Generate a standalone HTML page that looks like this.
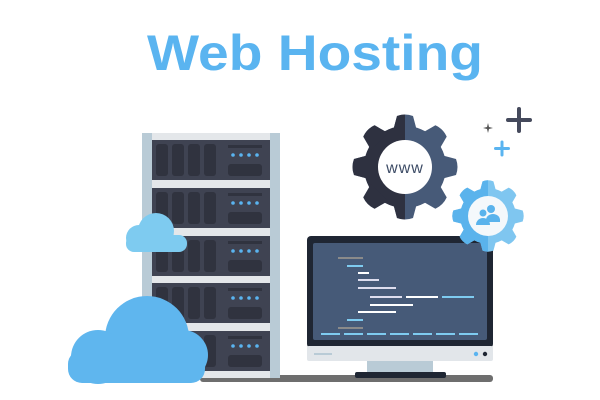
<!DOCTYPE html>
<html><head><style>html,body{margin:0;padding:0;background:#fff}svg{display:block}</style></head><body>
<svg width="600" height="400" viewBox="0 0 600 400" xmlns="http://www.w3.org/2000/svg">
<text x="315" y="70" text-anchor="middle" font-family="Liberation Sans, sans-serif" font-weight="bold" font-size="50" fill="#5ab4f0" textLength="336" lengthAdjust="spacingAndGlyphs">Web Hosting</text>
<!-- floor -->
<rect x="200" y="375" width="293" height="7" rx="3" fill="#6e6e6e"/>
<!-- rack -->
<rect x="142" y="133" width="138" height="245" fill="#e4e7ea"/>
<rect x="142" y="133" width="10" height="245" fill="#b9cbd6"/>
<rect x="270" y="133" width="10" height="245" fill="#b9cbd6"/>
<g id="u">
<rect x="152" y="140" width="118" height="40" fill="#3f4352"/>
<rect x="156" y="144" width="12" height="32" rx="3" fill="#30333f"/>
<rect x="172" y="144" width="12" height="32" rx="3" fill="#30333f"/>
<rect x="188" y="144" width="12" height="32" rx="3" fill="#30333f"/>
<rect x="204" y="144" width="12" height="32" rx="3" fill="#30333f"/>
<rect x="228" y="145" width="34" height="3" fill="#30333f"/>
<circle cx="233" cy="155" r="1.8" fill="#5ab4f0"/><circle cx="241" cy="155" r="1.8" fill="#5ab4f0"/><circle cx="249" cy="155" r="1.8" fill="#5ab4f0"/><circle cx="257" cy="155" r="1.8" fill="#5ab4f0"/>
<rect x="228" y="164" width="34" height="12" rx="3" fill="#30333f"/>
</g>
<use href="#u" y="48"/><use href="#u" y="96"/><use href="#u" y="143"/><use href="#u" y="191"/>
<!-- clouds -->
<g fill="#7ecbf0"><circle cx="156" cy="231" r="18"/><circle cx="139" cy="238" r="13"/><rect x="126" y="235" width="61" height="17" rx="8"/></g>
<g fill="#5fb6ee"><circle cx="147" cy="338" r="42"/><circle cx="98" cy="357" r="27"/><circle cx="183" cy="355" r="25"/><rect x="68" y="350" width="137" height="33" rx="14"/></g>
<!-- monitor -->
<rect x="307" y="236" width="186" height="112" rx="4" fill="#1f2633"/>
<rect x="313" y="243" width="174" height="97" rx="2" fill="#465a78"/>
<rect x="307" y="346" width="186" height="15" rx="2" fill="#e2e6ea"/>
<rect x="314" y="353" width="18" height="2" fill="#b9cbd6"/>
<circle cx="476" cy="354" r="2.2" fill="#5ab4f0"/><circle cx="485" cy="354" r="2.2" fill="#1f2633"/>
<rect x="367" y="361" width="66" height="11" fill="#b9cbd6"/>
<rect x="355" y="372" width="91" height="6" rx="2" fill="#1f2633"/>
<g stroke-width="2">
<line x1="338" y1="258" x2="363" y2="258" stroke="#8a8a8a"/>
<line x1="347" y1="266" x2="363" y2="266" stroke="#7ecbf0"/>
<line x1="358" y1="273" x2="369" y2="273" stroke="#fff"/>
<line x1="358" y1="280" x2="379" y2="280" stroke="#dde"/>
<line x1="358" y1="288" x2="396" y2="288" stroke="#dde"/>
<line x1="370" y1="297" x2="402" y2="297" stroke="#dde"/>
<line x1="406" y1="297" x2="438" y2="297" stroke="#fff"/>
<line x1="442" y1="297" x2="474" y2="297" stroke="#7ecbf0"/>
<line x1="370" y1="305" x2="413" y2="305" stroke="#fff"/>
<line x1="358" y1="312" x2="396" y2="312" stroke="#fff"/>
<line x1="347" y1="320" x2="363" y2="320" stroke="#7ecbf0"/>
<line x1="338" y1="328" x2="363" y2="328" stroke="#8a8a8a"/>
<line x1="321" y1="334" x2="478" y2="334" stroke="#7ecbf0" stroke-dasharray="19,4"/>
</g>
<defs>
<clipPath id="l"><rect x="0" y="0" width="405" height="400"/></clipPath>
<clipPath id="l2"><rect x="0" y="0" width="488" height="400"/></clipPath>
<g id="gear"><circle r="41"/><g id="t"><path d="M-12 -36 L-8 -51 Q0 -54 8 -51 L12 -36Z"/></g>
<use href="#t" transform="rotate(45)"/><use href="#t" transform="rotate(90)"/><use href="#t" transform="rotate(135)"/><use href="#t" transform="rotate(180)"/><use href="#t" transform="rotate(225)"/><use href="#t" transform="rotate(270)"/><use href="#t" transform="rotate(315)"/></g>
</defs>
<g transform="translate(405,167)" fill="#475a78"><use href="#gear"/></g>
<g clip-path="url(#l)"><g transform="translate(405,167)" fill="#2e3140"><use href="#gear"/></g></g>
<circle cx="405" cy="167" r="27" fill="#fff"/>
<text x="405" y="173" text-anchor="middle" font-family="Liberation Sans, sans-serif" font-size="16" fill="#3d4c66" letter-spacing="1">www</text>
<!-- small gear -->
<g transform="translate(488,216) scale(0.68)" fill="#7fc6f0"><use href="#gear"/></g>
<g clip-path="url(#l2)"><g transform="translate(488,216) scale(0.68)" fill="#5ab3ec"><use href="#gear"/></g></g>
<circle cx="488" cy="216" r="20" fill="#f4f8fb"/>
<g fill="#5ab3ec"><circle cx="491" cy="209" r="4"/><circle cx="483" cy="213" r="3.5"/><path d="M476 225 a7 7 0 0 1 14 0 z"/><path d="M486 220 a7 6 0 0 1 14 0 v2 h-14z"/></g>
<!-- stars -->
<g stroke-linecap="round">
<path d="M519 109v22M508 120h22" stroke="#454a5c" stroke-width="4"/>
<path d="M502 142v13M495.5 148.5h13" stroke="#5ab4f0" stroke-width="3"/>
</g>
<path d="M488 123 l1 4 4 1 -4 1 -1 4 -1 -4 -4 -1 4 -1z" fill="#555"/>
</svg>
</body></html>
